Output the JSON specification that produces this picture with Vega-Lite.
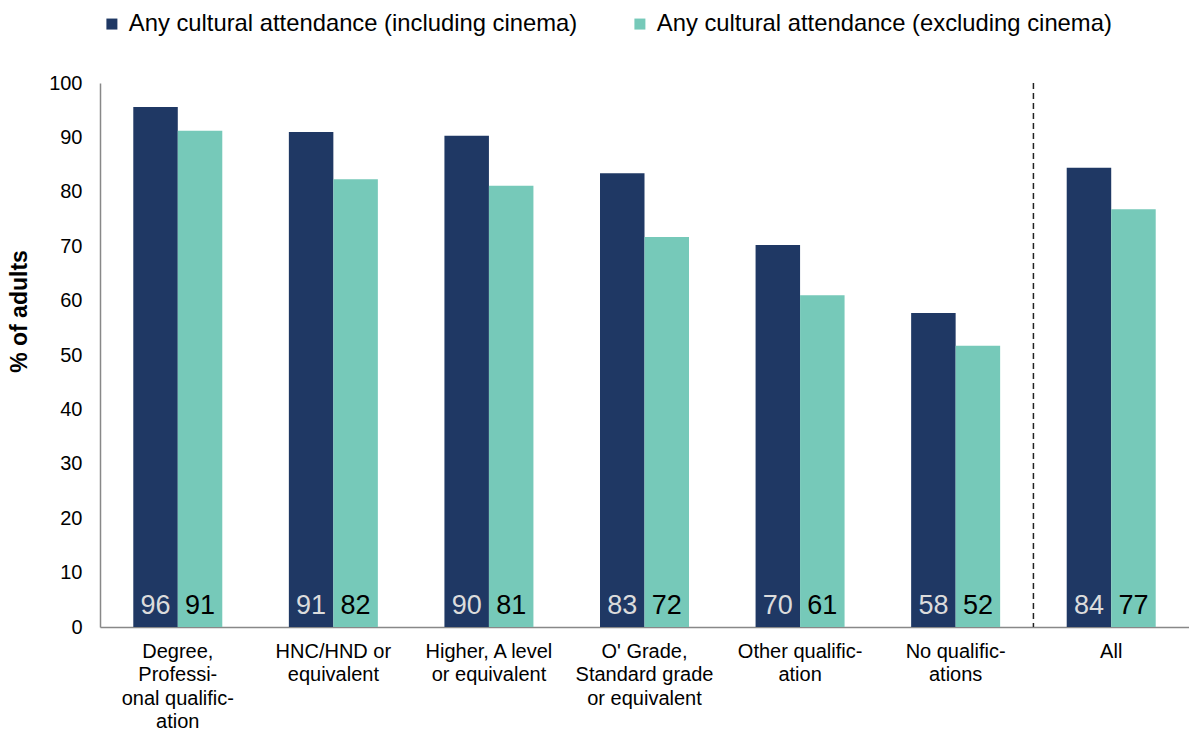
{
  "$schema": "https://vega.github.io/schema/vega-lite/v6.json",
  "width": 1089,
  "height": 544,
  "autosize": {"type": "none"},
  "padding": {"left": 100, "top": 83, "right": 0, "bottom": 104},
  "config": {
    "font": "Liberation Sans",
    "view": {"stroke": null},
    "axis": {"labelFont": "Liberation Sans", "titleFont": "Liberation Sans"}
  },
  "data": {
    "values": [
      {"category": "Degree, Professional qualification", "series": "Any cultural attendance (including cinema)", "value": 95.6},
      {"category": "Degree, Professional qualification", "series": "Any cultural attendance (excluding cinema)", "value": 91.2},
      {"category": "HNC/HND or equivalent", "series": "Any cultural attendance (including cinema)", "value": 91.0},
      {"category": "HNC/HND or equivalent", "series": "Any cultural attendance (excluding cinema)", "value": 82.3},
      {"category": "Higher, A level or equivalent", "series": "Any cultural attendance (including cinema)", "value": 90.3},
      {"category": "Higher, A level or equivalent", "series": "Any cultural attendance (excluding cinema)", "value": 81.1},
      {"category": "O' Grade, Standard grade or equivalent", "series": "Any cultural attendance (including cinema)", "value": 83.4},
      {"category": "O' Grade, Standard grade or equivalent", "series": "Any cultural attendance (excluding cinema)", "value": 71.7},
      {"category": "Other qualification", "series": "Any cultural attendance (including cinema)", "value": 70.2},
      {"category": "Other qualification", "series": "Any cultural attendance (excluding cinema)", "value": 61.0},
      {"category": "No qualifications", "series": "Any cultural attendance (including cinema)", "value": 57.7},
      {"category": "No qualifications", "series": "Any cultural attendance (excluding cinema)", "value": 51.7},
      {"category": "All", "series": "Any cultural attendance (including cinema)", "value": 84.4},
      {"category": "All", "series": "Any cultural attendance (excluding cinema)", "value": 76.8}
    ]
  },
  "encoding": {
    "x": {
      "field": "category",
      "type": "nominal",
      "sort": ["Degree, Professional qualification", "HNC/HND or equivalent", "Higher, A level or equivalent", "O' Grade, Standard grade or equivalent", "Other qualification", "No qualifications", "All"],
      "scale": {"paddingInner": 0, "paddingOuter": 0},
      "axis": {
        "title": null,
        "labelAngle": 0,
        "ticks": false,
        "domainColor": "#888888",
        "domainWidth": 1.5,
        "labelFontSize": 20,
        "labelColor": "#000000",
        "labelLineHeight": 23.5,
        "labelPadding": 14,
        "labelLimit": 0,
        "labelOverlap": false,
        "labelBaseline": "top",
        "labelExpr": "({'Degree, Professional qualification': ['Degree,', 'Professi-', 'onal qualific-', 'ation'], 'HNC/HND or equivalent': ['HNC/HND or', 'equivalent'], 'Higher, A level or equivalent': ['Higher, A level', 'or equivalent'], \"O' Grade, Standard grade or equivalent\": [\"O' Grade,\", 'Standard grade', 'or equivalent'], 'Other qualification': ['Other qualific-', 'ation'], 'No qualifications': ['No qualific-', 'ations'], 'All': ['All']})[datum.value]"
      }
    }
  },
  "layer": [
    {
      "mark": {"type": "bar"},
      "encoding": {
        "y": {
          "field": "value",
          "type": "quantitative",
          "scale": {"domain": [0, 100], "nice": false},
          "axis": {
            "title": "% of adults",
            "titleFontSize": 23,
            "titleFontWeight": "bold",
            "titleColor": "#000000",
            "titlePadding": 17,
            "titleY": 228,
            "values": [0, 10, 20, 30, 40, 50, 60, 70, 80, 90, 100],
            "grid": false,
            "ticks": false,
            "domainColor": "#888888",
            "domainWidth": 1.5,
            "labelFontSize": 20,
            "labelColor": "#000000",
            "labelPadding": 18
          }
        },
        "xOffset": {
          "field": "series",
          "type": "nominal",
          "sort": ["Any cultural attendance (including cinema)", "Any cultural attendance (excluding cinema)"],
          "scale": {"paddingInner": 0, "paddingOuter": 0.748}
        },
        "color": {
          "field": "series",
          "type": "nominal",
          "sort": ["Any cultural attendance (including cinema)", "Any cultural attendance (excluding cinema)"],
          "scale": {"range": ["#1f3864", "#76c9b9"]},
          "legend": {
            "title": null,
            "orient": "top",
            "direction": "horizontal",
            "symbolType": "square",
            "symbolSize": 121,
            "symbolStrokeWidth": 0,
            "labelFontSize": 23.8,
            "labelColor": "#000000",
            "labelOffset": 5,
            "columnPadding": 50,
            "labelLimit": 0,
            "offset": 47
          }
        }
      }
    },
    {
      "mark": {"type": "text", "baseline": "alphabetic", "dy": -13, "fontSize": 27},
      "encoding": {
        "y": {"datum": 0, "type": "quantitative"},
        "xOffset": {
          "field": "series",
          "type": "nominal",
          "sort": ["Any cultural attendance (including cinema)", "Any cultural attendance (excluding cinema)"]
        },
        "text": {"field": "value", "type": "quantitative", "format": ".0f"},
        "color": {
          "condition": {"test": "datum.series === 'Any cultural attendance (including cinema)'", "value": "#dcdcdc"},
          "value": "#000000"
        }
      }
    },
    {
      "data": {"values": [{"category": "All"}]},
      "mark": {"type": "rule", "strokeDash": [6, 4], "strokeWidth": 1.5, "color": "#222222"},
      "encoding": {
        "x": {"field": "category", "type": "nominal", "bandPosition": 0}
      }
    }
  ]
}
